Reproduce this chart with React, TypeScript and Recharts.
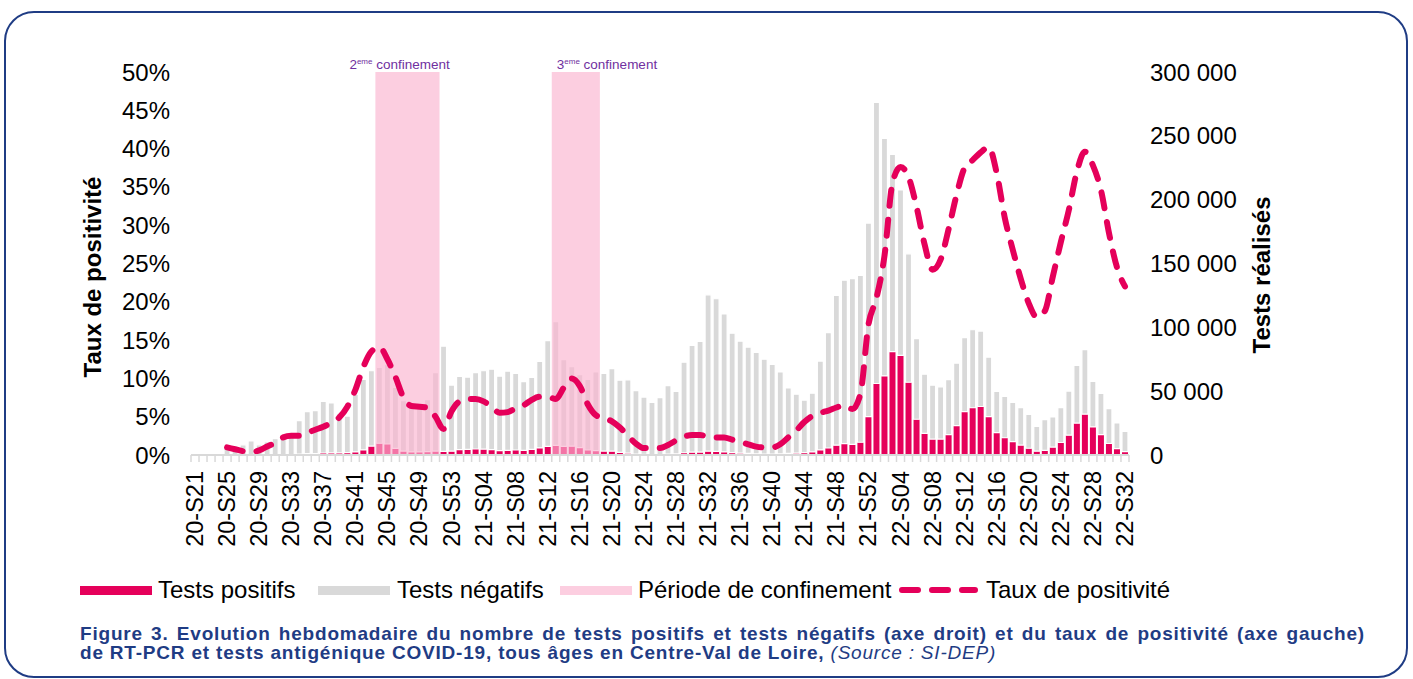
import React from 'react';
import {
  ComposedChart,
  Bar,
  Line,
  XAxis,
  YAxis,
  ReferenceArea,
} from 'recharts';

// semaines 20-S21 -> 22-S32
const weekRange = (yy: string, from: number, to: number) =>
  Array.from({ length: to - from + 1 }, (_, k) => `${yy}-S${String(from + k).padStart(2, '0')}`);
const weeks: string[] = [
  ...weekRange('20', 21, 53),
  ...weekRange('21', 1, 52),
  ...weekRange('22', 1, 32),
];

const testsPositifs = [
  0, 0, 0, 0, 50, 50, 40, 30, 70, 120,
  190, 320, 350, 680, 1000, 1150, 1550, 1700, 1600, 1900,
  2500, 4000, 7000, 9200, 8600, 5200, 3100, 2400, 2400, 2600,
  3100, 2900, 3000, 4200, 4400, 4700, 4600, 4200, 3400, 3700,
  3900, 3700, 4400, 5600, 6800, 7600, 6800, 6900, 5700, 3900,
  3400, 3100, 3000, 2100, 1500, 750, 420, 370, 400, 700,
  950, 1750, 2200, 2300, 3000, 2800, 2500, 1900, 1500, 1200,
  900, 750, 710, 900, 1200, 1500, 1850, 2450, 4000, 5500,
  7700, 8900, 8400, 10000, 30000, 56000, 62000, 81000, 78000, 57000,
  28000, 17000, 12500, 12500, 16000, 23000, 34000, 37000, 38000, 30000,
  17500, 13500, 10500, 7800, 5300, 3000, 3700, 6200, 9800, 15500,
  25000, 32000, 22000, 16000, 9000, 5000, 2700,
];

const testsNegatifs = [
  300, 300, 400, 500, 4750, 6450, 7960, 10970, 7930, 10080,
  12610, 13180, 13650, 26320, 33000, 33650, 40450, 39100, 30600, 28600,
  45000, 55300, 59000, 59500, 62400, 47800, 39400, 36000, 36600, 40700,
  61400, 82400, 51800, 57300, 56600, 59800, 61400, 63000, 58400, 62000,
  60000, 53700, 56400, 67800, 82800, 96900, 67900, 62400, 57300, 55300,
  61700, 60900, 64700, 56500, 57400, 49750, 44980, 40830, 44500, 53700,
  48850, 70950, 83600, 86700, 122500, 119600, 108000, 93500, 87700, 83300,
  79400, 74250, 70290, 64100, 51300, 46100, 41150, 45950, 69600, 90400,
  117300, 128000, 129800, 130700, 151700, 220200, 185900, 154400, 129600, 100600,
  63100, 46300, 42200, 40900, 43000, 49000, 57900, 61100, 59100, 46700,
  32400, 32400, 30700, 29300, 26500, 19400, 24000, 23600, 27300, 34600,
  45200, 50500, 35700, 32300, 27300, 20100, 15800,
];

// taux de positivité (%)
const tauxPositivite: (number | null)[] = [
  null, null, null, null, 1.0, 0.75, 0.5, 0.35, 0.6, 1.1,
  1.6, 2.3, 2.5, 2.5, 2.9, 3.3, 3.7, 4.2, 4.9, 6.3,
  8.5, 11.5, 13.5, 14.1, 12.5, 10.2, 7.5, 6.4, 6.3, 6.2,
  5.0, 3.4, 5.7, 7.0, 7.3, 7.3, 7.0, 6.3, 5.5, 5.6,
  6.1, 6.5, 7.2, 7.6, 7.6, 7.3, 8.8, 10.0, 9.0, 6.6,
  5.2, 4.8, 4.4, 3.6, 2.5, 1.5, 0.9, 0.9, 0.9, 1.3,
  1.9, 2.4, 2.6, 2.6, 2.4, 2.3, 2.3, 2.0, 1.7, 1.4,
  1.1, 1.0, 1.0, 1.4, 2.3, 3.2, 4.3, 5.1, 5.5, 5.8,
  6.2, 6.5, 6.0, 8.0, 17.0, 20.5, 26.0, 35.5, 37.6, 36.3,
  32.4, 27.5, 24.2, 25.5, 29.5, 34.0, 37.5, 38.5, 39.5, 40.2,
  36.8, 31.0, 26.8, 23.0, 19.8, 18.0, 18.8, 23.3, 27.8, 32.0,
  37.0, 39.6, 37.8, 34.6, 29.0, 24.5, 22.0,
];

const confinements = [
  { n: '2', from: '20-S44', to: '20-S51', dx: -26 },
  { n: '3', from: '21-S13', to: '21-S18', dx: 5 },
];

const leftTicks = [0, 5, 10, 15, 20, 25, 30, 35, 40, 45, 50];
const rightTicks = [0, 50000, 100000, 150000, 200000, 250000, 300000];

const data = weeks.map((w, i) => ({
  week: w,
  positifs: testsPositifs[i],
  negatifs: testsNegatifs[i],
  taux: tauxPositivite[i],
}));

const FONT = '"Liberation Sans", Arial, sans-serif';
const PINK = '#E5005A';
const GREY = '#D9D9D9';
const NAVY = '#1F3C84';
const BAND_FILL = '#FBB4D0';

const PLOT_LEFT = 191;
const PLOT_RIGHT = 1129;
const PLOT_TOP = 72;
const PLOT_BOTTOM = 455;
const BAND = (PLOT_RIGHT - PLOT_LEFT) / weeks.length;

const WeekTick = (props: any) => {
  const { x, y, payload, index } = props;
  const half = BAND / 2;
  return (
    <g>
      <line x1={x - half} x2={x - half} y1={y} y2={y + 7} stroke={GREY} strokeWidth={1.5} />
      {index === weeks.length - 1 && (
        <line x1={x + half} x2={x + half} y1={y} y2={y + 7} stroke={GREY} strokeWidth={1.5} />
      )}
      {index % 4 === 0 && (
        <text
          transform={`translate(${x},${y + 16}) rotate(-90)`}
          textAnchor="end"
          dominantBaseline="central"
          fontFamily={FONT}
          fontSize={23.5}
          fill="#000"
        >
          {payload.value}
        </text>
      )}
    </g>
  );
};

const ConfLabel = ({ viewBox, n, dx }: any) => {
  if (!viewBox) return null;
  return (
    <text x={viewBox.x + dx} y={viewBox.y - 3} fontFamily={FONT} fontSize={13.5} fill="#7030A0">
      {n}
      <tspan fontSize={8} dy={-5}>eme</tspan>
      <tspan dy={5}> confinement</tspan>
    </text>
  );
};

const legendText: React.CSSProperties = {
  position: 'absolute',
  top: 577,
  fontFamily: FONT,
  fontSize: 24,
  color: '#000',
  whiteSpace: 'nowrap',
  lineHeight: '26px',
};

const swatch = (left: number, width: number, color: string): React.CSSProperties => ({
  position: 'absolute',
  left,
  top: 586,
  width,
  height: 9,
  background: color,
});

export default function App() {
  return (
    <div style={{ position: 'absolute', left: 0, top: 0, width: 1413, height: 679, background: '#fff', overflow: 'hidden' }}>
      <div
        style={{
          position: 'absolute',
          left: 4,
          top: 11,
          width: 1400,
          height: 663,
          border: `2.5px solid ${NAVY}`,
          borderRadius: 30,
        }}
      />

      <div style={{ position: 'absolute', left: 0, top: 0 }}>
        <ComposedChart
          width={1413}
          height={679}
          data={data}
          barCategoryGap={1}
          margin={{ top: PLOT_TOP, left: PLOT_LEFT - 100, right: 1413 - PLOT_RIGHT - 150, bottom: 679 - PLOT_BOTTOM - 100 }}
        >
          <XAxis
            dataKey="week"
            interval={0}
            height={100}
            tickLine={false}
            tickSize={0}
            tickMargin={0}
            axisLine={{ stroke: GREY, strokeWidth: 2 }}
            tick={<WeekTick />}
          />
          <YAxis
            yAxisId="left"
            width={100}
            domain={[0, 50]}
            ticks={leftTicks}
            tickFormatter={(v) => `${v}%`}
            axisLine={false}
            tickLine={false}
            tickSize={0}
            tickMargin={21}
            tick={{ fill: '#000', fontSize: 24, fontFamily: FONT }}
          />
          <YAxis
            yAxisId="right"
            orientation="right"
            width={150}
            domain={[0, 300000]}
            ticks={rightTicks}
            tickFormatter={(v) => (v === 0 ? '0' : `${v / 1000} 000`)}
            axisLine={false}
            tickLine={false}
            tickSize={0}
            tickMargin={21}
            tick={{ fill: '#000', fontSize: 24, fontFamily: FONT }}
          />
          <Bar yAxisId="right" dataKey="positifs" stackId="t" fill={PINK} isAnimationActive={false} />
          <Bar
            yAxisId="right"
            dataKey="negatifs"
            stackId="t"
            fill={GREY}
            stroke="#fff"
            strokeWidth={1.2}
            isAnimationActive={false}
          />
          {confinements.map((c) => (
            <ReferenceArea
              key={c.n}
              yAxisId="left"
              x1={c.from}
              x2={c.to}
              y1={0}
              y2={50}
              fill={BAND_FILL}
              fillOpacity={0.65}
              stroke="none"
              zIndex={350}
              label={<ConfLabel n={c.n} dx={c.dx} />}
            />
          ))}
          <Line
            yAxisId="left"
            dataKey="taux"
            type="monotone"
            stroke={PINK}
            strokeWidth={6}
            strokeDasharray="16 14"
            strokeLinecap="round"
            dot={false}
            activeDot={false}
            connectNulls
            isAnimationActive={false}
          />
        </ComposedChart>
      </div>

      {/* titres d'axes */}
      <div
        style={{
          position: 'absolute',
          left: 93,
          top: 277,
          transform: 'translate(-50%, -50%) rotate(-90deg)',
          fontFamily: FONT,
          fontWeight: 'bold',
          fontSize: 24,
          whiteSpace: 'nowrap',
        }}
      >
        Taux de positivité
      </div>
      <div
        style={{
          position: 'absolute',
          left: 1262,
          top: 275,
          transform: 'translate(-50%, -50%) rotate(-90deg)',
          fontFamily: FONT,
          fontWeight: 'bold',
          fontSize: 24,
          whiteSpace: 'nowrap',
        }}
      >
        Tests réalisés
      </div>

      {/* légende */}
      <div style={swatch(80, 72, PINK)} />
      <div style={{ ...legendText, left: 158 }}>Tests positifs</div>
      <div style={swatch(318, 72, GREY)} />
      <div style={{ ...legendText, left: 397 }}>Tests négatifs</div>
      <div style={swatch(560, 72, '#FCCEE0')} />
      <div style={{ ...legendText, left: 638 }}>Période de confinement</div>
      <svg style={{ position: 'absolute', left: 895, top: 580 }} width={85} height={20}>
        <line x1={7} x2={80} y1={10} y2={10} stroke={PINK} strokeWidth={6} strokeDasharray="16 14" strokeLinecap="round" />
      </svg>
      <div style={{ ...legendText, left: 986 }}>Taux de positivité</div>

      {/* légende de figure */}
      <div
        style={{
          position: 'absolute',
          left: 80,
          top: 624,
          width: 1285,
          fontFamily: FONT,
          fontSize: 19,
          letterSpacing: 0.8,
          lineHeight: '19px',
          color: NAVY,
          fontWeight: 'bold',
        }}
      >
        <div style={{ textAlign: 'justify', textAlignLast: 'justify', whiteSpace: 'nowrap' }}>
          Figure 3. Evolution hebdomadaire du nombre de tests positifs et tests négatifs (axe droit) et du taux de
          positivité (axe gauche)
        </div>
        <div style={{ whiteSpace: 'nowrap' }}>
          de RT-PCR et tests antigénique COVID-19, tous âges en Centre-Val de Loire,{' '}
          <span style={{ fontWeight: 'normal', fontStyle: 'italic' }}>(Source : SI-DEP)</span>
        </div>
      </div>
    </div>
  );
}
